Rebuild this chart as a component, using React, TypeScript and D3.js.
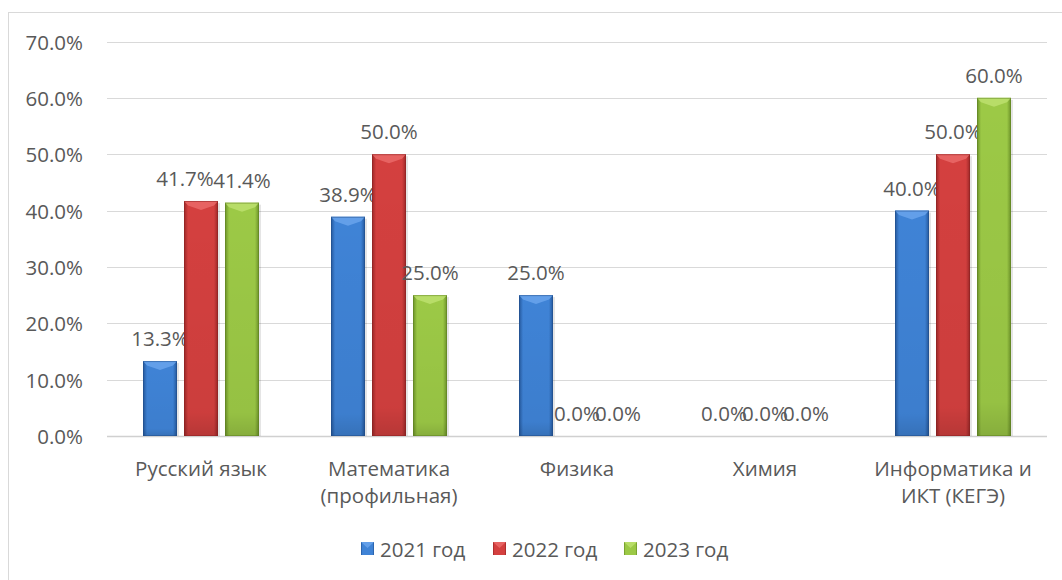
import React from "react";
import * as d3 from "d3";

const categories: string[][] = [
  ["Русский язык"],
  ["Математика", "(профильная)"],
  ["Физика"],
  ["Химия"],
  ["Информатика и", "ИКТ (КЕГЭ)"],
];
const seriesNames = ["2021 год", "2022 год", "2023 год"];
const values2021 = [0.133, 0.389, 0.25, 0, 0.4];
const values2022 = [0.417, 0.5, 0, 0, 0.5];
const values2023 = [0.414, 0.25, 0, 0, 0.6];
const yTicks = [0, 0.1, 0.2, 0.3, 0.4, 0.5, 0.6, 0.7];

const seriesValues = [values2021, values2022, values2023];
const palette = [
  { mid: "#3f83d6", edge: "#24579b", top: "#6aa5ec", dark: "#1f4c88" },
  { mid: "#d4403f", edge: "#9b2727", top: "#ea6a69", dark: "#8a2222" },
  { mid: "#9cc946", edge: "#6b9128", top: "#bde06e", dark: "#5e8022" },
];

const FONT = "'Open Sans', sans-serif";
const TXT = "#595959";

export default function App() {
  const W = 1062, H = 580;
  const left = 107, right = 1047, top = 41.5, bottom = 436;
  const y = d3.scaleLinear().domain([0, 0.7]).range([bottom, top]);
  const keys = categories.map((c) => c.join(" "));
  const x0 = d3.scaleBand<string>().domain(keys).range([left, right]).paddingInner(0).paddingOuter(0);
  const x1 = d3.scaleBand<string>().domain(seriesNames).range([-58, 58]).paddingInner(7 / 41).paddingOuter(0);
  const bw = x1.bandwidth();
  const fmt = d3.format(".1%");
  const fs = 20.5;

  return (
    <svg width={W} height={H} style={{ position: "absolute", left: 0, top: 0 }} fontFamily={FONT}>
      <defs>
        {palette.map((p, i) => (
          <linearGradient key={i} id={`g${i}`} x1="0" x2="1" y1="0" y2="0">
            <stop offset="0" stopColor={p.edge} />
            <stop offset="0.12" stopColor={p.mid} />
            <stop offset="0.5" stopColor={p.mid} />
            <stop offset="0.88" stopColor={p.mid} />
            <stop offset="1" stopColor={p.edge} />
          </linearGradient>
        ))}
        <linearGradient id="gv" x1="0" x2="0" y1="0" y2="1">
          <stop offset="0" stopColor="#000" stopOpacity="0" />
          <stop offset="0.9" stopColor="#000" stopOpacity="0.04" />
          <stop offset="1" stopColor="#000" stopOpacity="0.14" />
        </linearGradient>
      </defs>
      <rect x={0} y={0} width={W} height={H} fill="#fff" />
      <rect x={8.5} y={12.5} width={1200} height={700} fill="none" stroke="#d9d9d9" />
      {yTicks.map((t) => (
        <g key={t}>
          <line x1={left} x2={right} y1={Math.round(y(t)) + 0.5} y2={Math.round(y(t)) + 0.5} stroke={t === 0 ? "#d0d0d0" : "#d9d9d9"} strokeWidth={t === 0 ? 1.5 : 1} />
          <text x={83} y={y(t)} textAnchor="end" dominantBaseline="central" fontSize={fs} fill={TXT}>
            {fmt(t)}
          </text>
        </g>
      ))}
      {keys.map((k, ci) => (
        <g key={k} transform={`translate(${x0(k)! + x0.bandwidth() / 2},0)`}>
          {seriesNames.map((s, si) => {
            const v = seriesValues[si][ci];
            const bx = x1(s)!;
            const by = y(v);
            const h = bottom - by;
            const p = palette[si];
            const bev = Math.min(9, h / 2);
            return (
              <g key={s}>
                {h > 0 && (
                  <g>
                    <rect x={bx + 2} y={by + 2} width={bw} height={h - 2} fill="#000" opacity={0.1} />
                    <rect x={bx} y={by} width={bw} height={h} fill={`url(#g${si})`} />
                    <rect x={bx} y={by} width={bw} height={h} fill="url(#gv)" />
                    <polygon
                      points={`${bx},${by} ${bx + bw},${by} ${bx + bw - 4},${by + bev * 0.5} ${bx + bw / 2},${by + bev} ${bx + 4},${by + bev * 0.5}`}
                      fill={p.top}
                      opacity={0.85}
                    />
                    <rect x={bx + 0.5} y={by + 0.5} width={bw - 1} height={h - 1} fill="none" stroke={p.dark} strokeOpacity={0.5} />
                  </g>
                )}
                <text
                  x={bx + bw / 2 + (ci === 0 && si === 1 ? -16 : 0)}
                  y={by - 23}
                  textAnchor="middle"
                  dominantBaseline="central"
                  fontSize={fs}
                  fill={TXT}
                >
                  {fmt(v)}
                </text>
              </g>
            );
          })}
          {categories[ci].map((line, li) => (
            <text key={li} x={0} y={468 + li * 27} textAnchor="middle" dominantBaseline="central" fontSize={fs} fill={TXT}>
              {line}
            </text>
          ))}
        </g>
      ))}
      {seriesNames.map((s, si) => {
        const lx = [361, 493, 624][si];
        const p = palette[si];
        return (
          <g key={s}>
            <rect x={lx} y={542} width={13} height={13} fill={`url(#g${si})`} />
            <polygon points={`${lx},542 ${lx + 13},542 ${lx + 6.5},548`} fill={p.top} opacity={0.85} />
            <text x={lx + 19} y={548.5} dominantBaseline="central" fontSize={fs} fill={TXT}>
              {s}
            </text>
          </g>
        );
      })}
    </svg>
  );
}
